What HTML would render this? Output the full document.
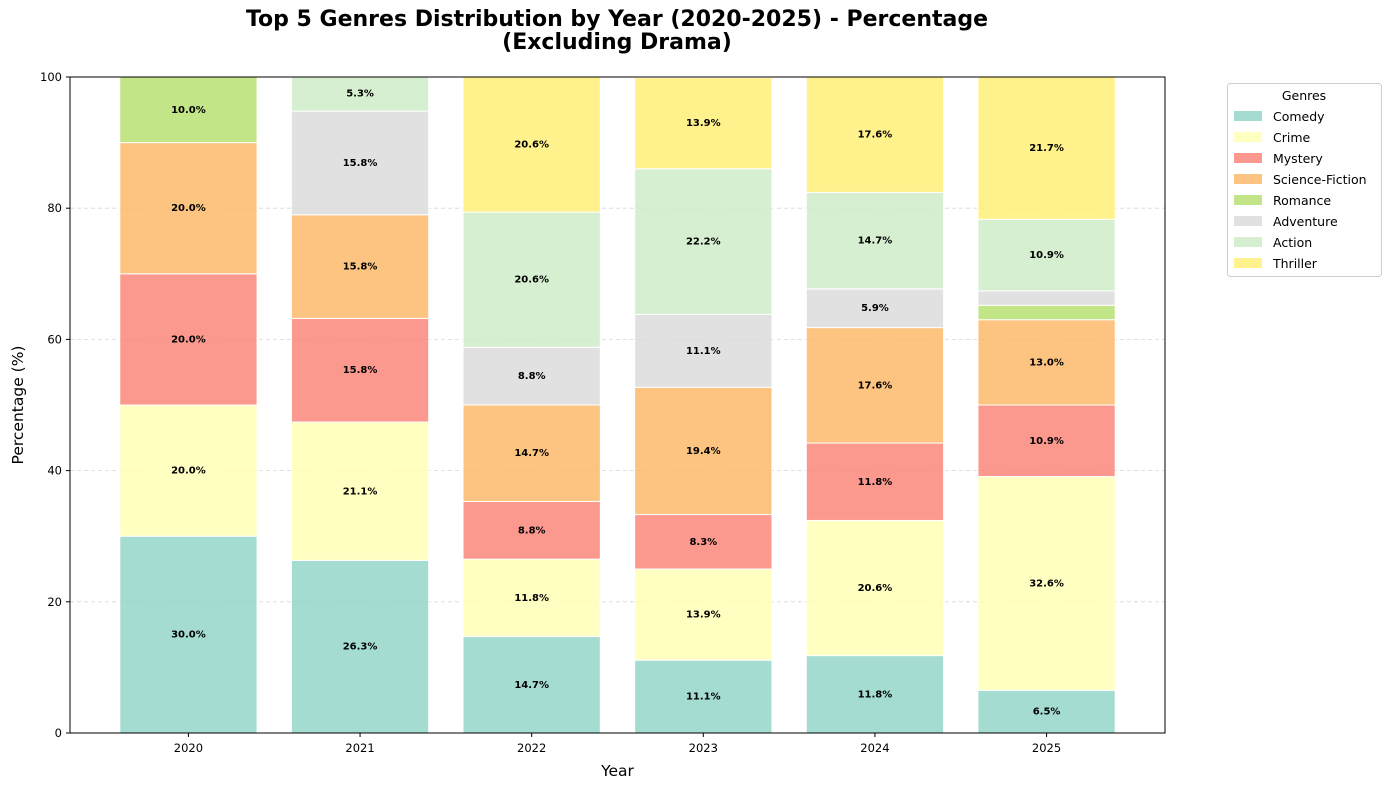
<!DOCTYPE html>
<html><head><meta charset="utf-8">
<style>
body{margin:0;background:#fff;font-family:"DejaVu Sans","Liberation Sans",sans-serif;}
svg text{font-family:"DejaVu Sans","Liberation Sans",sans-serif;}
</style></head>
<body>
<svg id="chart" width="1390" height="790" xmlns="http://www.w3.org/2000/svg">
<text x="617" y="26" text-anchor="middle" font-size="22" font-weight="bold">Top 5 Genres Distribution by Year (2020-2025) - Percentage</text>
<text x="617" y="49" text-anchor="middle" font-size="22" font-weight="bold">(Excluding Drama)</text>
<g id="grid"></g>
<g id="bars"></g>
<g id="axes"></g>
<g id="legend"></g>
</svg>
<script>
const years = ["2020","2021","2022","2023","2024","2025"];
const genres = ["Comedy","Crime","Mystery","Science-Fiction","Romance","Adventure","Action","Thriller"];
const comedy = [30.0,26.3,14.7,11.1,11.8,6.5];
const crime = [20.0,21.1,11.8,13.9,20.6,32.6];
const mystery = [20.0,15.8,8.8,8.3,11.8,10.9];
const scifi = [20.0,15.8,14.7,19.4,17.6,13.0];
const romance = [10.0,0,0,0,0,2.2];
const adventure = [0,15.8,8.8,11.1,5.9,2.2];
const action = [0,5.3,20.6,22.2,14.7,10.9];
const thriller = [0,0,20.6,13.9,17.6,21.7];
const yTicks = [0,20,40,60,80,100];
const series = [comedy,crime,mystery,scifi,romance,adventure,action,thriller];
const colors = ["#8dd3c7","#ffffb3","#fb8072","#fdb462","#b3de69","#d9d9d9","#ccebc5","#ffed6f"];

const NS="http://www.w3.org/2000/svg";
const L=70,R=1165,T=77,B=733;
const x = i => L + (i+0.69)/(6.38)*(R-L);
const y = v => B - v/100*(B-T);
const bw = 0.8/6.38*(R-L);
function mk(tag,attrs,parent){const e=document.createElementNS(NS,tag);for(const k in attrs)e.setAttribute(k,attrs[k]);parent.appendChild(e);return e;}
const grid=document.getElementById('grid'),bars=document.getElementById('bars'),axes=document.getElementById('axes'),legend=document.getElementById('legend');

yTicks.forEach(t=>{
  if(t>0&&t<100){const g=mk('line',{x1:L,x2:R,y1:y(t),y2:y(t),stroke:'#b0b0b0','stroke-opacity':0.5,'stroke-dasharray':'4,3','stroke-width':0.8},grid);
  
  }
  const tk=mk('line',{x1:L-4,x2:L,y1:y(t),y2:y(t),stroke:'#000'},axes);
  
  
  const tl=mk('text',{x:L-8,y:y(t)+4,'text-anchor':'end','font-size':11.5},axes);tl.textContent=t;
  
  
});

years.forEach((yr,i)=>{
  let base=0;
  series.forEach((s,k)=>{
    const v=s[i]; if(v<=0)return;
    const r=mk('rect',{x:x(i)-bw/2,y:y(base+v),width:bw,height:y(base)-y(base+v),fill:colors[k],'fill-opacity':0.8,stroke:'#fff','stroke-width':1},bars);
    
    
    if(v>=3){const t=mk('text',{x:x(i),y:y(base+v/2)+3,'text-anchor':'middle','font-size':10,'font-weight':'bold'},bars);t.textContent=v.toFixed(1)+'%';
      
      }
    base+=v;
  });
  const tk=mk('line',{x1:x(i),x2:x(i),y1:B,y2:B+4,stroke:'#000'},axes);
  
  
  const tl=mk('text',{x:x(i),y:B+19,'text-anchor':'middle','font-size':11.5},axes);tl.textContent=yr;
  
  
});

const frame=mk('rect',{x:L,y:T,width:R-L,height:B-T,fill:'none',stroke:'#000','stroke-width':1},axes);


const xt=mk('text',{x:(L+R)/2,y:776,'text-anchor':'middle','font-size':15.5},axes);xt.textContent='Year';


const yt=mk('text',{x:23,y:(T+B)/2,'text-anchor':'middle','font-size':15.5,transform:'rotate(-90 23 '+((T+B)/2)+')'},axes);yt.textContent='Percentage (%)';



const lb=mk('rect',{x:1227.5,y:83.5,width:154,height:193,rx:3,fill:'#fff',stroke:'#ccc'},legend);


const lt=mk('text',{x:1304,y:100,'text-anchor':'middle','font-size':12.5},legend);lt.textContent='Genres';


genres.forEach((g,k)=>{
  const yy=116+k*21;
  const sw=mk('rect',{x:1234,y:yy-5,width:28,height:10,fill:colors[k],'fill-opacity':0.8},legend);
  
  
  const t=mk('text',{x:1273,y:yy+5,'font-size':12.5},legend);t.textContent=g;
  
  
});
</script>
</body></html>
